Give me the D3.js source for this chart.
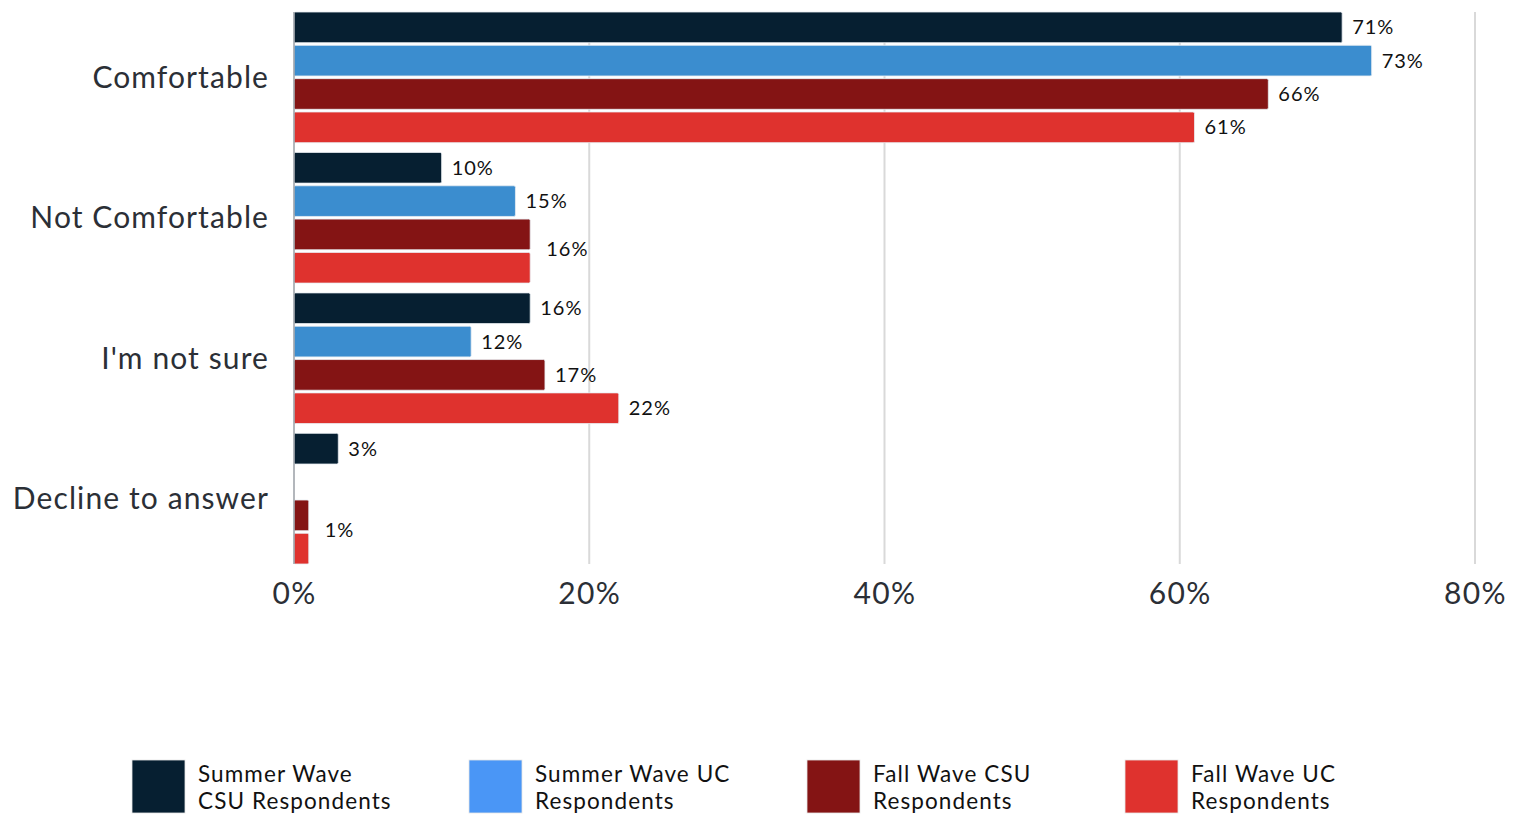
<!DOCTYPE html>
<html>
<head>
<meta charset="utf-8">
<script src="https://cdn.jsdelivr.net/npm/d3@7"></script>
<style>
  html, body { margin: 0; padding: 0; background: #fff; }
  svg { display: block; font-family: Lato, "Open Sans", sans-serif; }
</style>
</head>
<body>
<svg id="chart" width="1524" height="815"></svg>
<script>
// Survey responses by wave and system (percent of respondents)
const categories = ["Comfortable", "Not Comfortable", "I'm not sure", "Decline to answer"];
const seriesNames = [
  ["Summer Wave", "CSU Respondents"],
  ["Summer Wave UC", "Respondents"],
  ["Fall Wave CSU", "Respondents"],
  ["Fall Wave UC", "Respondents"]
];
const summerCSU = [71, 10, 16, 3];
const summerUC  = [73, 15, 12, null];
const fallCSU   = [66, 16, 17, 1];
const fallUC    = [61, 16, 22, 1];
const xTicks = [0, 20, 40, 60, 80];

const barColors    = ["#061f31", "#3b8dcf", "#841414", "#df322e"];
const legendColors = ["#061f31", "#4a96f6", "#841414", "#df322e"];

const seriesValues = [summerCSU, summerUC, fallCSU, fallUC];

const svg = d3.select("#chart");
const margin = { left: 294, right: 49, top: 12, bottom: 251 };
const W = 1524, H = 815;

const x = d3.scaleLinear().domain([0, 80]).range([margin.left, W - margin.right]);
const y0 = d3.scaleBand().domain(categories).range([margin.top, H - margin.bottom]).paddingInner(0.07).paddingOuter(0);
const y1 = d3.scaleBand().domain(d3.range(seriesValues.length)).range([0, y0.bandwidth()]).paddingInner(0.08);

// vertical gridlines
svg.append("g")
  .selectAll("line")
  .data(xTicks.slice(1))
  .join("line")
  .attr("x1", d => x(d)).attr("x2", d => x(d))
  .attr("y1", margin.top).attr("y2", H - margin.bottom)
  .attr("stroke", "#d9d9d9").attr("stroke-width", 2);

// bars
const groups = svg.append("g")
  .selectAll("g")
  .data(categories)
  .join("g")
  .attr("transform", d => `translate(0,${y0(d)})`);

groups.selectAll("rect")
  .data((c, ci) => seriesValues.map((vals, si) => ({ si, v: vals[ci] })).filter(d => d.v != null))
  .join("rect")
  .attr("x", x(0))
  .attr("y", d => y1(d.si))
  .attr("width", d => x(d.v) - x(0))
  .attr("height", y1.bandwidth())
  .attr("rx", 1.5)
  .attr("fill", d => barColors[d.si])
  .attr("stroke", "#e8eef3")
  .attr("stroke-width", 0.8);

// value labels; equal adjacent values share one label between their bars
groups.each(function (c, ci) {
  const items = seriesValues.map((vals, si) => ({ si, v: vals[ci] })).filter(d => d.v != null);
  const labels = [];
  for (let i = 0; i < items.length; i++) {
    const a = items[i], b = items[i + 1];
    if (b && b.v === a.v && b.si === a.si + 1) {
      labels.push({ v: a.v, yc: (y1(a.si) + y1(b.si) + y1.bandwidth()) / 2 - 2, gap: 16 });
      i++;
    } else {
      labels.push({ v: a.v, yc: y1(a.si) + y1.bandwidth() / 2, gap: 10 });
    }
  }
  d3.select(this).selectAll("text.val")
    .data(labels)
    .join("text")
    .attr("class", "val")
    .attr("x", d => x(d.v) + d.gap)
    .attr("y", d => d.yc)
    .attr("dy", "0.35em")
    .attr("font-size", 20)
    .attr("letter-spacing", 1)
    .attr("fill", "#111")
    .text(d => d.v + "%");
});

// baseline axis line
svg.append("line")
  .attr("x1", x(0)).attr("x2", x(0))
  .attr("y1", margin.top).attr("y2", H - margin.bottom)
  .attr("stroke", "#9a9fa6").attr("stroke-width", 1.5);

// category axis labels
svg.append("g")
  .selectAll("text")
  .data(categories)
  .join("text")
  .attr("x", x(0) - 25)
  .attr("y", d => y0(d) + y0.bandwidth() / 2)
  .attr("dy", "0.35em")
  .attr("text-anchor", "end")
  .attr("font-size", 30)
  .attr("letter-spacing", 1.1)
  .attr("fill", "#2b2f36")
  .text(d => d);

// x axis tick labels
const xAxis = d3.axisBottom(x).tickValues(xTicks).tickFormat(d => d + "%").tickSize(0).tickPadding(19);
const gx = svg.append("g")
  .attr("transform", `translate(0,${H - margin.bottom})`)
  .call(xAxis);
gx.select(".domain").remove();
gx.selectAll("text")
  .attr("font-size", 30)
  .attr("letter-spacing", 1.4)
  .attr("font-family", "Lato, 'Open Sans', sans-serif")
  .attr("fill", "#2b2f36");

// legend
const legendX = [132, 469, 807, 1125];
const legend = svg.append("g")
  .selectAll("g")
  .data(seriesNames)
  .join("g")
  .attr("transform", (d, i) => `translate(${legendX[i]},760)`);

legend.append("rect")
  .attr("width", 53).attr("height", 53)
  .attr("fill", (d, i) => legendColors[i])
  .attr("stroke", "#e6e6e6").attr("stroke-width", 0.8);

legend.append("text")
  .attr("x", 66)
  .attr("y", 14)
  .attr("font-size", 22.5)
  .attr("letter-spacing", 1.1)
  .attr("fill", "#111")
  .selectAll("tspan")
  .data(d => d)
  .join("tspan")
  .attr("x", 66)
  .attr("dy", (d, i) => i === 0 ? "0.35em" : "1.2em")
  .text(d => d);
</script>
</body>
</html>
